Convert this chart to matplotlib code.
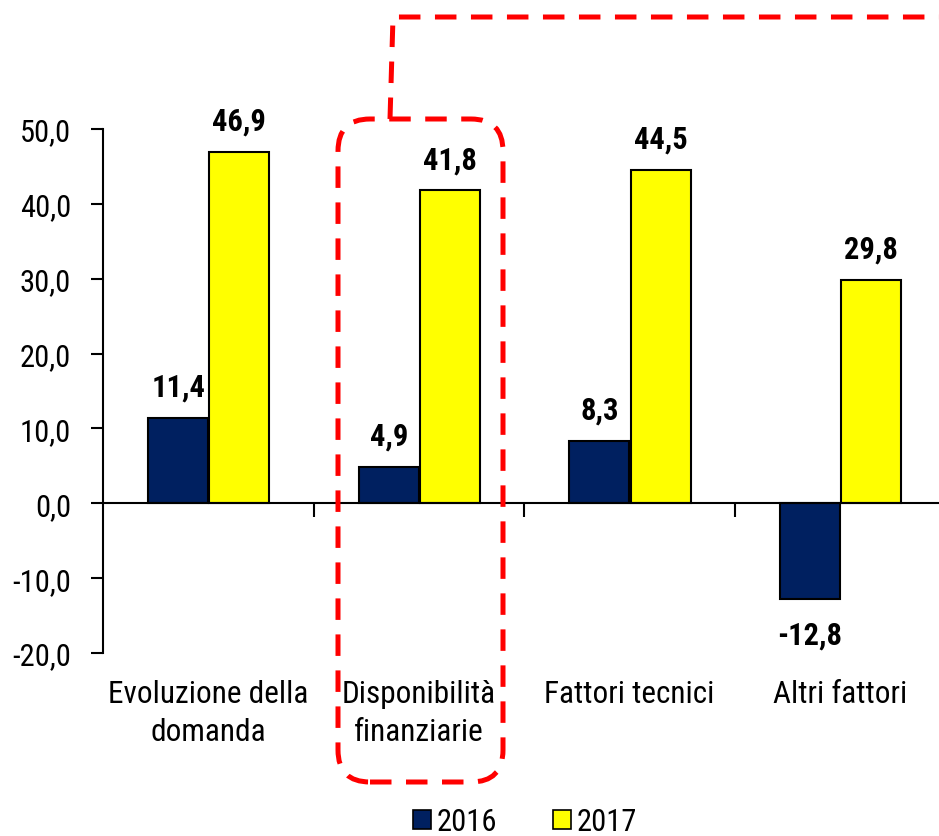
import matplotlib
matplotlib.use("Agg")
from matplotlib import pyplot as plt
from matplotlib.patches import FancyBboxPatch, Patch
from matplotlib.lines import Line2D
from matplotlib.transforms import IdentityTransform, blended_transform_factory

categories = ["Evoluzione della\ndomanda", "Disponibilità\nfinanziarie", "Fattori tecnici", "Altri fattori"]
values_2016 = [11.4, 4.9, 8.3, -12.8]
values_2017 = [46.9, 41.8, 44.5, 29.8]
series = ["2016", "2017"]
yticks = [-20, -10, 0, 10, 20, 30, 40, 50]

plt.rcParams['font.family'] = ['Roboto Condensed', 'DejaVu Sans']
navy = "#002060"
yellow = "#FFFF00"
red = "#FF0000"

fig = plt.figure(figsize=(9.39, 8.37), dpi=100)
ax = fig.add_axes([103 / 939, 183 / 837, 836 / 939, 524 / 837])

x = list(range(len(categories)))
w = 0.285
x16 = [i - 0.1425 for i in x]
x17 = [i + 0.1475 for i in x]
ax.bar(x16, values_2016, w, color=navy, edgecolor="black", linewidth=1.5)
ax.bar(x17, values_2017, w, color=yellow, edgecolor="black", linewidth=1.5)

def fmt(v):
    return f"{v:.1f}".replace(".", ",")

# data labels
for xs, vals in ((x16, values_2016), (x17, values_2017)):
    for xi, v in zip(xs, vals):
        if v >= 0:
            ax.annotate(fmt(v), (xi, v), xytext=(0, 16), textcoords="offset points",
                        ha="center", va="baseline", fontsize=22, fontweight="bold")
        else:
            ax.annotate(fmt(v), (xi, v), xytext=(0, -15), textcoords="offset points",
                        ha="center", va="top", fontsize=22, fontweight="bold")

ax.set_xlim(-0.5, 3.47)
ax.set_ylim(-20, 50)
ax.set_yticks(yticks)
ax.set_yticklabels([fmt(t) for t in yticks], fontsize=22)
ax.tick_params(axis="y", length=9, width=1.5, pad=14)

ax.spines["top"].set_visible(False)
ax.spines["right"].set_visible(False)
ax.spines["bottom"].set_position(("data", 0))
ax.spines["left"].set_linewidth(1.5)
ax.spines["bottom"].set_linewidth(1.5)
ax.set_xticks(x)
ax.set_xticklabels([])
ax.tick_params(axis="x", which="major", length=0)
ax.set_xticks([0.5, 1.5, 2.5], minor=True)
ax.tick_params(axis="x", which="minor", length=10, width=1.5, direction="out")

trans = blended_transform_factory(ax.transData, ax.transAxes)
for xi, c in zip(x, categories):
    ax.text(xi, -0.05, c, transform=trans, ha="center", va="top", fontsize=22.5, linespacing=1.38)

# legend
handles = [Patch(facecolor=navy, edgecolor="black", linewidth=1.2),
           Patch(facecolor=yellow, edgecolor="black", linewidth=1.2)]
fig.legend(handles, series, loc="center", bbox_to_anchor=(525 / 939, 14 / 837), ncol=2,
           frameon=False, fontsize=22, handlelength=0.6, handleheight=0.6,
           handletextpad=0.2, columnspacing=1.8)

# red dashed highlight
H = 837
box = FancyBboxPatch((338, H - 783), 165, 663, boxstyle="round,pad=0,rounding_size=32",
                     transform=IdentityTransform(), fill=False, edgecolor=red,
                     linewidth=3.6, linestyle=(0, (4.3, 2.9)))
fig.add_artist(box)
conn = Line2D([390, 393, 945], [H - 120, H - 18, H - 18], transform=IdentityTransform(),
              color=red, linewidth=3.6, linestyle=(0, (4.3, 2.9)))
fig.add_artist(conn)

fig.savefig("out.png", dpi=100)
